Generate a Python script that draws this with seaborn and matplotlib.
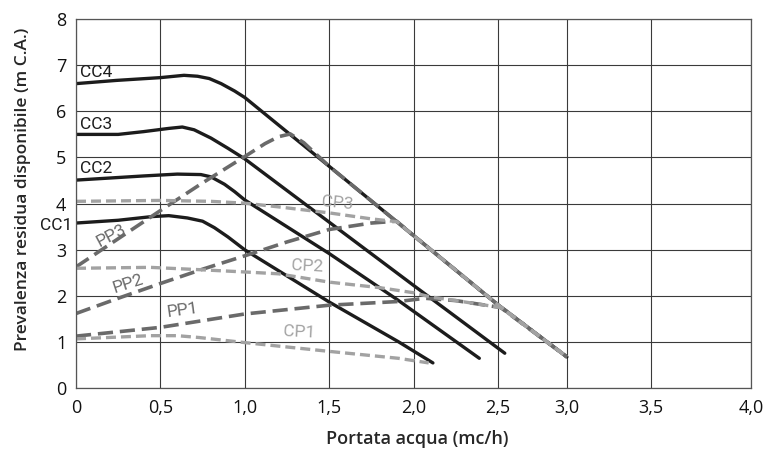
import matplotlib
matplotlib.use("Agg")
import matplotlib.pyplot as plt
import seaborn as sns
import numpy as np

# pump curves: flow (mc/h) vs available head (m C.A.)
CC4_X = [0, 0.24, 0.5, 0.64, 0.72, 0.79, 0.86, 0.94, 1.0, 1.5, 2.0, 2.5, 3.0]
CC4_Y = [6.60, 6.67, 6.73, 6.78, 6.76, 6.71, 6.60, 6.44, 6.30, 4.81, 3.31, 1.81, 0.68]
CC3_X = [0, 0.25, 0.4, 0.55, 0.63, 0.7, 0.8, 0.9, 1.0, 1.5, 2.0, 2.55]
CC3_Y = [5.50, 5.50, 5.56, 5.63, 5.66, 5.60, 5.42, 5.20, 4.97, 3.60, 2.23, 0.76]
CC2_X = [0, 0.4, 0.6, 0.74, 0.8, 0.88, 0.94, 1.0, 1.5, 1.9, 2.39]
CC2_Y = [4.51, 4.60, 4.64, 4.63, 4.58, 4.42, 4.26, 4.08, 2.92, 1.93, 0.65]
CC1_X = [0, 0.25, 0.45, 0.55, 0.66, 0.75, 0.82, 0.9, 1.0, 1.5, 1.91, 2.115]
CC1_Y = [3.58, 3.64, 3.72, 3.74, 3.69, 3.62, 3.48, 3.28, 3.00, 1.87, 1.01, 0.55]

PP3_X = [0, 0.5, 0.75, 1.0, 1.12, 1.2, 1.27, 1.35, 1.5, 2.0, 2.5, 3.0]
PP3_Y = [2.63, 3.85, 4.45, 5.02, 5.30, 5.45, 5.51, 5.32, 4.81, 3.31, 1.81, 0.68]
PP2_X = [0, 0.25, 0.5, 0.75, 1.0, 1.25, 1.5, 1.75, 1.9, 2.0, 2.5, 3.0]
PP2_Y = [1.62, 1.95, 2.27, 2.58, 2.87, 3.17, 3.44, 3.58, 3.62, 3.31, 1.81, 0.68]
PP1_X = [0, 0.5, 1.0, 1.5, 1.91, 2.07, 2.25, 2.52, 3.0]
PP1_Y = [1.13, 1.32, 1.61, 1.80, 1.88, 1.95, 1.90, 1.75, 0.68]

CP3_X = [0, 0.5, 0.8, 1.0, 1.2, 1.5, 1.75, 1.9, 2.0, 2.5, 3.0]
CP3_Y = [4.05, 4.07, 4.05, 4.01, 3.93, 3.80, 3.67, 3.61, 3.31, 1.81, 0.68]
CP2_X = [0, 0.44, 0.73, 1.0, 1.2, 1.5, 1.8, 2.0, 2.1, 2.25, 2.52, 3.0]
CP2_Y = [2.60, 2.62, 2.57, 2.52, 2.48, 2.30, 2.18, 2.07, 1.98, 1.90, 1.75, 0.68]
CP1_X = [0, 0.44, 0.6, 0.73, 1.0, 1.5, 1.91, 2.09]
CP1_Y = [1.07, 1.14, 1.14, 1.10, 0.99, 0.80, 0.65, 0.55]

X_TICKS = [0, 0.5, 1.0, 1.5, 2.0, 2.5, 3.0, 3.5, 4.0]
X_TICK_LABELS = ["0", "0,5", "1,0", "1,5", "2,0", "2,5", "3,0", "3,5", "4,0"]
Y_TICKS = [0, 1, 2, 3, 4, 5, 6, 7, 8]

# the original drawing has the 3,0 and 3,5 gridlines squeezed to the left
SCALE_VALS = [0, 2.5, 3.0, 3.5, 4.0]
SCALE_POS = [0, 2.5, 2.909, 3.406, 4.0]


def fwd(v):
    v = np.asarray(v, dtype=float)
    return np.where(v <= 2.5, v, np.interp(v, SCALE_VALS, SCALE_POS))


def inv(p):
    p = np.asarray(p, dtype=float)
    return np.where(p <= 2.5, p, np.interp(p, SCALE_POS, SCALE_VALS))


sns.set_style("white")
plt.rcParams['font.family'] = ['Open Sans', 'DejaVu Sans']

BLACK = '#1c1c1c'
DARK = '#6a6a6a'
LIGHT = '#a2a2a2'

fig = plt.figure(figsize=(7.69, 4.55), dpi=100)
ax = fig.add_axes([76 / 769, 1 - 388.3 / 455, 675 / 769, 369.3 / 455])

curves = [
    (CC4_X, CC4_Y, BLACK, '-', 2.4),
    (CC3_X, CC3_Y, BLACK, '-', 2.4),
    (CC2_X, CC2_Y, BLACK, '-', 2.4),
    (CC1_X, CC1_Y, BLACK, '-', 2.4),
    (PP3_X, PP3_Y, DARK, (0, (4.2, 1.9)), 2.6),
    (PP2_X, PP2_Y, DARK, (0, (4.2, 1.9)), 2.6),
    (PP1_X, PP1_Y, DARK, (0, (4.2, 1.9)), 2.6),
    (CP3_X, CP3_Y, LIGHT, (0, (3.0, 1.5)), 2.4),
    (CP2_X, CP2_Y, LIGHT, (0, (3.0, 1.5)), 2.4),
    (CP1_X, CP1_Y, LIGHT, (0, (3.0, 1.5)), 2.4),
]
for x, y, col, ls, lw in curves:
    sns.lineplot(x=x, y=y, ax=ax, color=col, linestyle=ls, lw=lw,
                 sort=False, estimator=None)

labels = [
    ("CC4", 0.12, 6.84, 0, BLACK),
    ("CC3", 0.12, 5.72, 0, BLACK),
    ("CC2", 0.12, 4.77, 0, BLACK),
    ("CC1", -0.12, 3.53, 0, BLACK),
    ("PP3", 0.21, 3.30, 28, DARK),
    ("PP2", 0.31, 2.26, 18, DARK),
    ("PP1", 0.63, 1.69, 8, DARK),
    ("CP3", 1.55, 4.00, -6, LIGHT),
    ("CP2", 1.37, 2.65, -3, LIGHT),
    ("CP1", 1.325, 1.21, -3, LIGHT),
]
for txt, x, y, rot, col in labels:
    ax.text(x, y, txt, color=col, fontsize=12.5, rotation=rot,
            ha='center', va='center', family=['Roboto', 'DejaVu Sans'],
            clip_on=False)

ax.set_xscale('function', functions=(fwd, inv))
ax.set_xlim(0, 4.0)
ax.set_ylim(0, 8)
ax.set_xticks(X_TICKS)
ax.set_xticklabels(X_TICK_LABELS)
ax.set_yticks(Y_TICKS)
ax.tick_params(length=0, labelsize=13, colors='#111111')
ax.tick_params(axis='y', pad=7)
ax.tick_params(axis='x', pad=8)
ax.grid(True, color='#3a3a3a', lw=0.8)
ax.set_axisbelow(True)
for s in ax.spines.values():
    s.set_color('#555555')
    s.set_linewidth(0.9)

ax.set_xlabel('Portata acqua (mc/h)', fontsize=13, fontweight='semibold')
ax.set_ylabel('Prevalenza residua disponibile (m C.A.)', fontsize=12.5,
              fontweight='semibold')
ax.xaxis.set_label_coords(0.506, -0.112)
ax.yaxis.set_label_coords(-0.067, 0.54)

fig.savefig('out.png', dpi=100)
